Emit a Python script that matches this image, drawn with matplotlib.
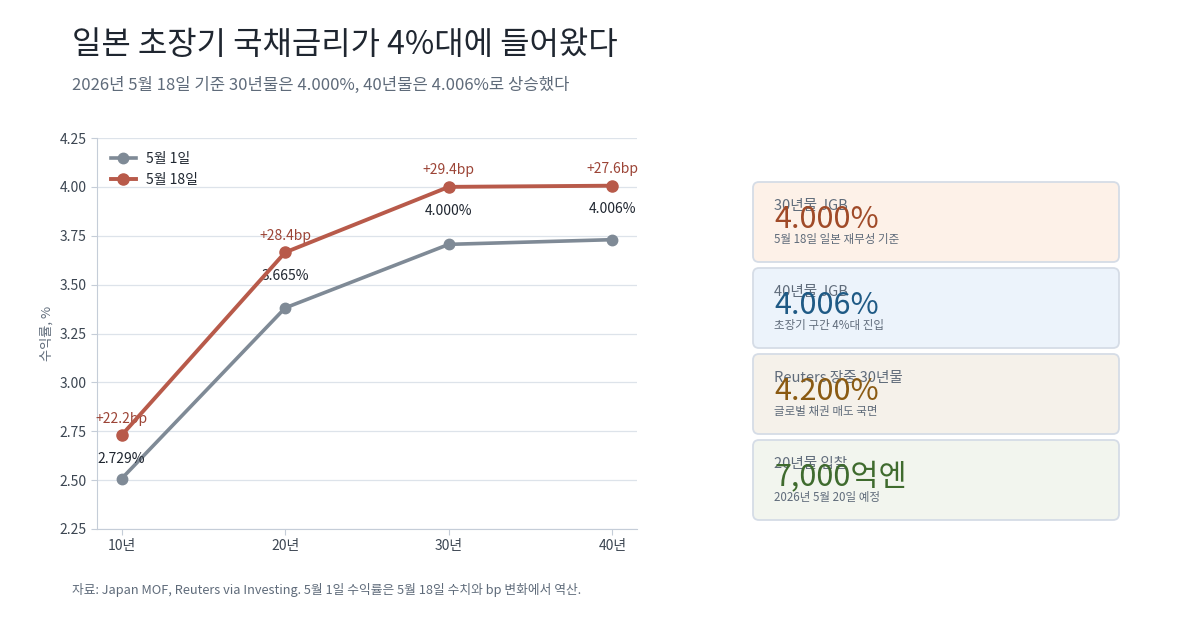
from matplotlib import pyplot as plt
from matplotlib.patches import FancyBboxPatch

plt.rcParams['font.family'] = ['Noto Sans CJK KR', 'DejaVu Sans']

# data
tenors = [10, 20, 30, 40]
tenorLabels = ['10년', '20년', '30년', '40년']
may1 = [2.507, 3.381, 3.706, 3.730]
may18 = [2.729, 3.665, 4.000, 4.006]
changeBp = [22.2, 28.4, 29.4, 27.6]

cardLabels = ['30년물 JGB', '40년물 JGB', 'Reuters 장중 30년물', '20년물 입찰']
cardValues = ['4.000%', '4.006%', '4.200%', '7,000억엔']
cardNotes = ['5월 18일 일본 재무성 기준', '초장기 구간 4%대 진입',
             '글로벌 채권 매도 국면', '2026년 5월 20일 예정']
cardFaces = ['#fdf1e8', '#ecf3fb', '#f5f1ea', '#f2f5ee']
cardInk = ['#a04a28', '#1f5a85', '#8a5a12', '#3f6b2e']

# colours
grayLine = '#7f8a96'
redLine = '#b85a4a'
textGray = '#5f6b7a'
dark = '#1f2630'

fig = plt.figure(figsize=(12, 6.3), dpi=100)

# titles
fig.text(72 / 1200, 1 - 45 / 630, '일본 초장기 국채금리가 4%대에 들어왔다',
         fontsize=23, color=dark, va='center')
fig.text(72 / 1200, 1 - 85 / 630, '2026년 5월 18일 기준 30년물은 4.000%, 40년물은 4.006%로 상승했다',
         fontsize=12, color=textGray, va='center')
fig.text(72 / 1200, 1 - 590 / 630,
         '자료: Japan MOF, Reuters via Investing. 5월 1일 수익률은 5월 18일 수치와 bp 변화에서 역산.',
         fontsize=9.2, color=textGray, va='center')

# main chart
ax = fig.add_axes([97 / 1200, 1 - 529 / 630, 540 / 1200, 391 / 630])
ax.plot(tenors, may1, color=grayLine, lw=2.6, marker='o', ms=7.5, label='5월 1일', zorder=3)
ax.plot(tenors, may18, color=redLine, lw=2.8, marker='o', ms=8, label='5월 18일', zorder=4)

for x, y, bp in zip(tenors, may18, changeBp):
    ax.annotate(f'+{bp:.1f}bp', (x, y), xytext=(0, 7), textcoords='offset points',
                ha='center', va='bottom', fontsize=10, color='#9c4436')
    ax.annotate(f'{y:.3f}%', (x, y), xytext=(0, -12), textcoords='offset points',
                ha='center', va='top', fontsize=10, color=dark)

ax.set_xlim(8.5, 41.5)
ax.set_ylim(2.25, 4.25)
ax.set_xticks(tenors)
ax.set_xticklabels(tenorLabels)
ax.set_yticks([2.25 + 0.25 * i for i in range(9)])
ax.yaxis.set_major_formatter(plt.FormatStrFormatter('%.2f'))
ax.tick_params(colors='#c5cdd8', labelcolor='#3c4652', labelsize=10, length=4)
ax.set_ylabel('수익률, %', fontsize=9.5, color=textGray)
ax.grid(axis='y', color='#dde3ea', lw=0.9)
ax.set_axisbelow(True)
for side in ['top', 'right']:
    ax.spines[side].set_visible(False)
for side in ['left', 'bottom']:
    ax.spines[side].set_color('#c5cdd8')

leg = ax.legend(loc='upper left', frameon=False, fontsize=10, handlelength=1.8,
                handletextpad=0.7, borderaxespad=0.6, labelcolor=dark)

# cards on an overlay in pixel units
ov = fig.add_axes([0, 0, 1, 1])
ov.set_xlim(0, 1200)
ov.set_ylim(630, 0)
ov.axis('off')
ov.patch.set_alpha(0)

for i in range(4):
    top = 182 + i * 86
    ov.add_patch(FancyBboxPatch((753, top), 366, 80,
                                boxstyle='round,pad=0,rounding_size=6',
                                facecolor=cardFaces[i], edgecolor='#d5dce6', lw=1.3))
    ov.text(774, top + 24, cardLabels[i], fontsize=10.5, color=textGray, va='center')
    ov.text(774, top + 38, cardValues[i], fontsize=22, color=cardInk[i], va='center')
    ov.text(774, top + 58, cardNotes[i], fontsize=8.3, color=textGray, va='center')

plt.savefig('out.png', dpi=100)
